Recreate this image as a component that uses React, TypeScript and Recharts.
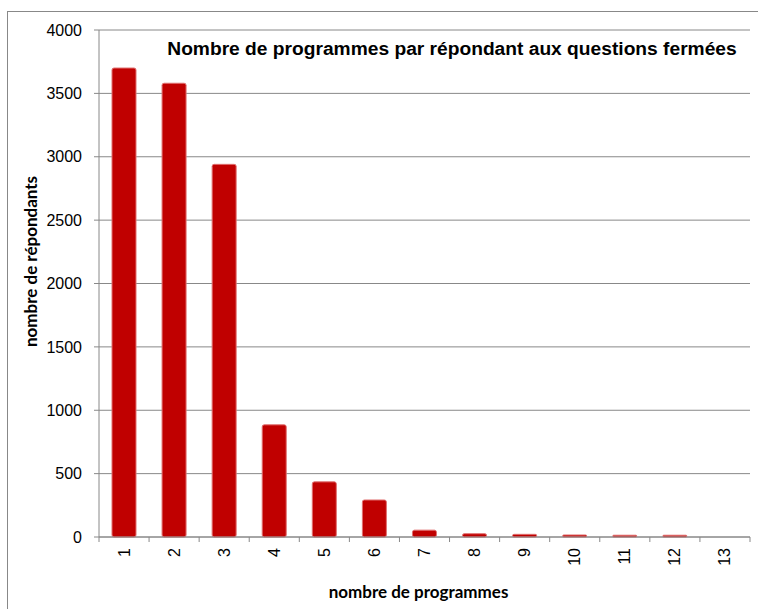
import { BarChart, Bar, XAxis, YAxis, CartesianGrid } from 'recharts'

const programmes = ['1', '2', '3', '4', '5', '6', '7', '8', '9', '10', '11', '12', '13']
const repondants = [3700, 3580, 2940, 885, 435, 292, 54, 26, 21, 16, 14, 14, 0]
const yTicks = [0, 500, 1000, 1500, 2000, 2500, 3000, 3500, 4000]

const data = programmes.map((p, i) => ({ p, n: repondants[i] }))

const GRAY = '#888888'

function XTick(props: any) {
  const { x, y, payload, index } = props
  const half = payload.offset || 0
  const last = index === programmes.length - 1
  return (
    <g>
      <line x1={x - half} x2={x - half} y1={y} y2={y + 5} stroke={GRAY} />
      {last && <line x1={x + half} x2={x + half} y1={y} y2={y + 5} stroke={GRAY} />}
      <text
        x={x}
        y={y + 11}
        transform={`rotate(-90, ${x}, ${y + 11})`}
        textAnchor="end"
        dominantBaseline="central"
        fontFamily="Liberation Sans, Arial, sans-serif"
        fontSize={16}
        fill="#000"
      >
        {payload.value}
      </text>
    </g>
  )
}

export default function App() {
  return (
    <div style={{ position: 'absolute', left: 0, top: 0, width: 758, height: 609, background: '#fff' }}>
      <div
        style={{
          position: 'absolute',
          left: 7,
          top: 11,
          width: 751,
          height: 598,
          borderTop: `1px solid ${GRAY}`,
          borderLeft: `1px solid ${GRAY}`,
          boxSizing: 'border-box',
        }}
      />
      <div style={{ position: 'absolute', left: 0, top: 0 }}>
        <BarChart width={758} height={609} data={data} margin={{ top: 30, right: 8, bottom: 0, left: 0 }} barSize={24}>
          <CartesianGrid vertical={false} stroke={GRAY} />
          <XAxis
            dataKey="p"
            height={72}
            tickLine={false}
            tickSize={0}
            tickMargin={0}
            axisLine={{ stroke: GRAY }}
            interval={0}
            tick={<XTick />}
            label={{
              value: 'nombre de programmes',
              content: ({ viewBox }: any) => (
                <text
                  x={viewBox.x + viewBox.width / 2 - 6}
                  y={viewBox.y + 54}
                  textAnchor="middle"
                  dominantBaseline="central"
                  fontFamily="Lato, sans-serif"
                  fontWeight={700}
                  fontSize={17}
                  fill="#000"
                >
                  nombre de programmes
                </text>
              ),
            }}
          />
          <YAxis
            width={99}
            domain={[0, 4000]}
            ticks={yTicks}
            interval={0}
            tickSize={5}
            tickMargin={12}
            tickLine={{ stroke: GRAY }}
            axisLine={{ stroke: GRAY }}
            tick={{ fontFamily: 'Liberation Sans, Arial, sans-serif', fontSize: 16, fill: '#000' }}
            label={{
              value: 'nombre de répondants',
              content: ({ viewBox }: any) => {
                const cx = 30
                const cy = viewBox.y + viewBox.height / 2 - 22
                return (
                  <text
                    x={cx}
                    y={cy}
                    transform={`rotate(-90, ${cx}, ${cy})`}
                    textAnchor="middle"
                    dominantBaseline="central"
                    fontFamily="Lato, sans-serif"
                    fontWeight={700}
                    fontSize={17}
                    fill="#000"
                  >
                    nombre de répondants
                  </text>
                )
              },
            }}
          />
          <Bar
            dataKey="n"
            fill="#C00000"
            stroke="#e07070"
            strokeWidth={1}
            radius={[2, 2, 2, 2]}
            isAnimationActive={false}
          />
          <text
            x={452}
            y={48}
            textAnchor="middle"
            dominantBaseline="central"
            fontFamily="Liberation Sans, Arial, sans-serif"
            fontWeight={700}
            fontSize={19.2}
            fill="#000"
          >
            Nombre de programmes par répondant aux questions fermées
          </text>
        </BarChart>
      </div>
    </div>
  )
}
